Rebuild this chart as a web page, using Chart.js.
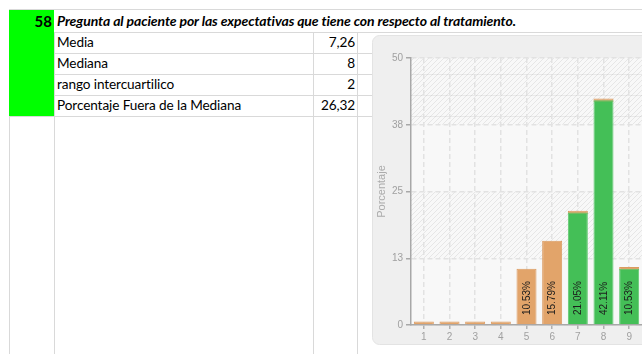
<!DOCTYPE html>
<html>
<head>
<meta charset="utf-8">
<script src="https://cdn.jsdelivr.net/npm/chart.js@4/dist/chart.umd.min.js"></script>
<style>
  html, body { margin: 0; padding: 0; background: #fff; }
  #sheet { position: relative; width: 642px; height: 354px; overflow: hidden;
           font-family: Lato, "Open Sans", sans-serif; color: #000;
           font-variant-ligatures: none; font-feature-settings: "liga" 0; }
  .h { position: absolute; height: 1px; background: #d9d9d9; }
  .v { position: absolute; width: 1px; background: #d9d9d9; }
  .txt { position: absolute; font-size: 13.6px; letter-spacing: -0.1px; line-height: 21px; white-space: nowrap; }
  #num { position: absolute; left: 9px; top: 10px; width: 45px; height: 106px; background: #00ff00; }
  #numTxt { position: absolute; right: 2px; top: 2px; font-weight: bold; font-size: 15px; line-height: 18px; }
  #title { left: 57px; top: 10px; font-size: 14px; font-weight: bold; font-style: italic; line-height: 22px; letter-spacing: -0.1px; }
  #chartBox { position: absolute; left: 372px; top: 35px; }
</style>
</head>
<body>
<div id="sheet">
  <div class="h" style="left:9px;top:9px;width:633px"></div>
  <div class="h" style="left:54px;top:32px;width:588px"></div>
  <div class="v" style="left:9px;top:9px;height:345px"></div>
  <div class="v" style="left:54px;top:32px;height:322px"></div>
  <div class="v" style="left:313px;top:32px;height:322px"></div>
  <div class="v" style="left:357px;top:32px;height:322px"></div>
  <div id="num"><span id="numTxt"></span></div>
  <div id="title" class="txt"></div>
  <div id="rows"></div>
  <div id="chartBox"><canvas id="chart" width="300" height="310"></canvas></div>
</div>

<script>
// Question header
const questionNumber = '58';
const questionText = 'Pregunta al paciente por las expectativas que tiene con respecto al tratamiento.';

// Summary statistics
const statLabels = ['Media', 'Mediana', 'rango intercuartilico', 'Porcentaje Fuera de la Mediana'];
const statValues = ['7,26', '8', '2', '26,32'];

// Answer distribution (percent of patients per score)
const categories = ['1', '2', '3', '4', '5', '6', '7', '8', '9'];
const dentroMediana = [0, 0, 0, 0, 0, 0, 21.05, 42.11, 10.53];
const fueraMediana  = [0, 0, 0, 0, 10.53, 15.79, 0, 0, 0];
const yTicks = [0, 12.5, 25, 37.5, 50];

document.getElementById('numTxt').textContent = questionNumber;
document.getElementById('title').textContent = questionText;

// Stats table rows
const rows = document.getElementById('rows');
const rowTop = 32, rowH = 21;
statLabels.forEach((lab, i) => {
  const top = rowTop + i * rowH;
  const l = document.createElement('div');
  l.className = 'txt'; l.style.left = '57px'; l.style.top = top + 'px';
  l.textContent = lab; rows.appendChild(l);
  const v = document.createElement('div');
  v.className = 'txt'; v.style.right = (642 - 355) + 'px'; v.style.top = top + 'px';
  v.textContent = statValues[i]; rows.appendChild(v);
  const line = document.createElement('div');
  line.className = 'h';
  line.style.left = (i === statLabels.length - 1 ? 9 : 54) + 'px';
  line.style.top = (top + rowH) + 'px';
  line.style.width = '633px';
  rows.appendChild(line);
});

// Diagonal hatch used on alternate bands of the plot background
function makeHatch() {
  const c = document.createElement('canvas');
  c.width = 5; c.height = 5;
  const g = c.getContext('2d');
  g.strokeStyle = 'rgba(0,0,0,0.07)';
  g.lineWidth = 1;
  g.beginPath();
  g.moveTo(-1, 6); g.lineTo(6, -1);
  g.moveTo(-1, 1); g.lineTo(1, -1);
  g.moveTo(4, 6); g.lineTo(6, 4);
  g.stroke();
  return c;
}

const panelPlugin = {
  id: 'panel',
  beforeDraw(chart) {
    const { ctx, chartArea: a } = chart;
    const y = chart.scales.y;
    ctx.save();
    ctx.beginPath();
    if (ctx.roundRect) ctx.roundRect(0.5, 0.5, chart.width + 20, chart.height - 1, 7);
    else ctx.rect(0.5, 0.5, chart.width + 20, chart.height - 1);
    ctx.fillStyle = '#efefef';
    ctx.fill();
    ctx.strokeStyle = '#e3e3e3';
    ctx.lineWidth = 1;
    ctx.stroke();
    // plot area is see-through so the sheet grid stays visible
    ctx.clearRect(a.left, a.top, a.width, a.height);
    ctx.fillStyle = 'rgba(244,244,244,0.6)';
    ctx.fillRect(a.left, a.top, a.width, a.height);
    const pat = ctx.createPattern(makeHatch(), 'repeat');
    const vals = y.ticks.map(t => t.value).sort((p, q) => q - p);
    for (let i = 0; i + 1 < vals.length; i += 2) {
      const y1 = y.getPixelForValue(vals[i]);
      const y2 = y.getPixelForValue(vals[i + 1]);
      ctx.fillStyle = pat;
      ctx.fillRect(a.left, y1, a.width, y2 - y1);
    }
    ctx.restore();
  }
};

const labelPlugin = {
  id: 'barLabels',
  afterDatasetsDraw(chart) {
    const ctx = chart.ctx;
    const base = chart.scales.y.getPixelForValue(0);
    ctx.save();
    ctx.font = '10px "Liberation Sans", Arial, sans-serif';
    ctx.fillStyle = '#1c1c1c';
    chart.data.datasets.forEach((ds, di) => {
      chart.getDatasetMeta(di).data.forEach((bar, i) => {
        const v = ds.data[i];
        if (!v) return;
        ctx.save();
        ctx.translate(bar.x, base - 10);
        ctx.rotate(-Math.PI / 2);
        ctx.textAlign = 'left';
        ctx.textBaseline = 'middle';
        ctx.fillText(v.toFixed(2) + '%', 0, 0.5);
        ctx.restore();
      });
    });
    ctx.restore();
  }
};

const axisFont = { family: '"Liberation Sans", Arial, sans-serif', size: 10 };

new Chart(document.getElementById('chart'), {
  type: 'bar',
  data: {
    labels: categories,
    datasets: [
      { label: 'Dentro de la mediana', data: dentroMediana,
        backgroundColor: '#44bf57', borderColor: '#5fca70', borderWidth: 1, borderSkipped: 'bottom' },
      { label: 'Fuera de la mediana', data: fueraMediana,
        backgroundColor: '#e2a46a', borderColor: '#db9a60', borderWidth: 1, borderSkipped: 'bottom',
        minBarLength: 3.5 }
    ]
  },
  options: {
    responsive: false,
    animation: false,
    devicePixelRatio: 1,
    layout: { padding: { left: 0, top: 23, right: 30, bottom: 0 } },
    datasets: { bar: { barPercentage: 0.78, categoryPercentage: 1 } },
    plugins: { legend: { display: false }, tooltip: { enabled: false } },
    scales: {
      x: {
        stacked: true,
        grid: { offset: false, color: '#e2e2e2', lineWidth: 1.5, tickColor: '#b0b0b0', tickLength: 4 },
        border: { color: '#a8a8a8', width: 1.5, dash: [5, 3] },
        ticks: { color: '#a0a0a0', font: axisFont, padding: 2 },
        afterFit(s) { s.height = 20; }
      },
      y: {
        stacked: true,
        min: 0, max: 50,
        afterBuildTicks(s) { s.ticks = yTicks.map(v => ({ value: v })); },
        grid: { color: '#e2e2e2', lineWidth: 1.5, tickColor: '#a8a8a8', tickLength: 5 },
        border: { color: '#a8a8a8', width: 1.5, dash: [5, 3] },
        ticks: { color: '#a0a0a0', font: axisFont, padding: 3, callback: v => Math.round(v) },
        title: { display: true, text: 'Porcentaje', color: '#ababab',
                 font: { family: '"Liberation Sans", Arial, sans-serif', size: 11 },
                 padding: { top: 3, bottom: 0 } },
        afterFit(s) { s.width = 39; }
      }
    }
  },
  plugins: [panelPlugin, labelPlugin]
});
</script>
</body>
</html>
